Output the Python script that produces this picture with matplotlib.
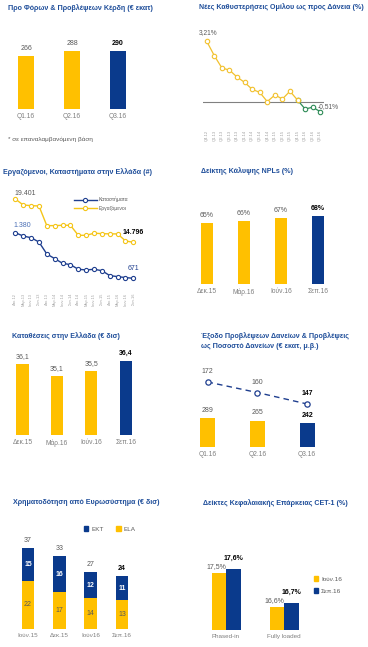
import matplotlib
matplotlib.use("Agg")
import matplotlib.pyplot as plt
from matplotlib.patches import Patch

plt.rcParams["font.family"] = ["Liberation Sans Narrow", "Liberation Sans", "DejaVu Sans"]

# ---- data ----
pbt_labels = ["Q1.16", "Q2.16", "Q3.16"]
pbt_vals = [266, 288, 290]

nf_labels = ["Q4.12", "Q1.13", "Q2.13", "Q3.13", "Q4.13", "Q1.14", "Q2.14", "Q3.14",
             "Q4.14", "Q1.15", "Q2.15", "Q3.15", "Q4.15", "Q1.16", "Q2.16", "Q3.16"]
nf_vals = [3.21, 2.45, 1.80, 1.69, 1.32, 1.04, 0.67, 0.51,
           0.02, 0.37, 0.16, 0.57, 0.10, -0.37, -0.28, -0.51]

staff_labels = ["Δεκ.12", "Μαρ.13", "Ιουν.13", "Σεπ.13", "Δεκ.13", "Μαρ.14", "Ιουν.14", "Σεπ.14",
                "Δεκ.14", "Μαρ.15", "Ιουν.15", "Σεπ.15", "Δεκ.15", "Μαρ.16", "Ιουν.16", "Σεπ.16"]
employees = [19401, 18764, 18693, 18660, 16569, 16570, 16605, 16605,
             15540, 15540, 15760, 15720, 15690, 15690, 14940, 14796]
branches = [1380, 1328, 1302, 1235, 1049, 977, 904, 883,
            811, 801, 811, 790, 713, 697, 682, 671]

npl_labels = ["Δεκ.15", "Μάρ.16", "Ιούν.16", "Σεπ.16"]
npl_cov = [65, 66, 67, 68]

dep_labels = ["Δεκ.15", "Μάρ.16", "Ιούν.16", "Σεπ.16"]
deposits = [36.1, 35.1, 35.5, 36.4]

prov_labels = ["Q1.16", "Q2.16", "Q3.16"]
prov_charge = [289, 265, 242]
prov_bps = [172, 160, 147]

euro_labels = ["Ιούν.15", "Δεκ.15", "Ιούν16", "Σεπ.16"]
ecb = [15, 16, 12, 11]
ela = [22, 17, 14, 13]
euro_total = [37, 33, 27, 24]

cet_labels = ["Phased-in", "Fully loaded"]
cet_jun = [17.5, 16.6]
cet_sep = [17.6, 16.7]

# ---- style ----
W, H = 368, 647
YEL = "#FFC000"
BLU = "#0A3A8C"
LBLU = "#1F3F8F"
GRN = "#2E8B57"
TITLE = "#1F4E9A"
GREY = "#7F7F7F"
DGREY = "#595959"

fig = plt.figure(figsize=(W / 100, H / 100), dpi=100)


def add_box(x0, y0, x1, y1):
    ax = fig.add_axes([x0 / W, 1 - y1 / H, (x1 - x0) / W, (y1 - y0) / H])
    for s in ax.spines.values():
        s.set_visible(False)
    ax.tick_params(length=0, labelsize=4.8, labelcolor=GREY, pad=3)
    ax.set_yticks([])
    ax.patch.set_alpha(0)
    return ax


def ftext(x, y, s, **kw):
    fig.text(x / W, 1 - y / H, s, **kw)


def title(x, y, s):
    ftext(x, y, s, fontsize=5.1, fontweight="bold", color=TITLE, ha="left", va="center")


def vlabel(ax, x, y, s, bold=False, dy=3, color=None, dx=0, va="bottom", size=5):
    ax.annotate(s, (x, y), xytext=(dx, dy), textcoords="offset points", ha="center", va=va,
                fontsize=size, fontweight="bold" if bold else "normal",
                color=color or ("black" if bold else DGREY))


def gr(v, nd=1):
    return f"{v:.{nd}f}".replace(".", ",")


# ---- panel 1: pre-tax pre-provision ----
title(8, 8, "Προ Φόρων & Προβλέψεων Κέρδη (€ εκατ)")
ax = add_box(3, 49, 141, 109)
ax.bar(range(3), pbt_vals, width=0.35, color=[YEL, YEL, BLU])
ax.set_xlim(-0.5, 2.5)
ax.set_ylim(0, 300)
ax.set_xticks(range(3), pbt_labels)
for i, v in enumerate(pbt_vals):
    vlabel(ax, i, v, str(v), bold=(i == 2))
ftext(8, 139, "* σε επαναλαμβανόμενη βάση", fontsize=4.6, color=DGREY, va="center")

# ---- panel 2: new NPE formation ----
title(199, 7, "Νέες Καθυστερήσεις Ομίλου ως προς Δάνεια (%)")
ax = add_box(203, 38, 324, 115)
x = list(range(len(nf_vals)))
ax.axhline(0, color="#808080", lw=0.8)
ax.plot(x[12:], nf_vals[12:], color=GRN, lw=0.9, marker="o", ms=3.2, mfc="white", mec=GRN, mew=0.8)
ax.plot(x[:13], nf_vals[:13], color="#F2C12E", lw=0.9, marker="o", ms=3.2, mfc="white",
        mec="#F2C12E", mew=0.8)
ax.set_xlim(-0.5, 15.5)
ax.set_ylim(-0.69, 3.39)
ax.set_xticks(x, nf_labels, rotation=90)
ax.tick_params(labelsize=3, pad=11, labelcolor="#A0A0A0")
vlabel(ax, 0, nf_vals[0], gr(nf_vals[0], 2) + "%", dy=4, dx=1, size=4.8)
vlabel(ax, 15, nf_vals[15], gr(nf_vals[15], 2) + "%", dy=4, dx=6, va="center", size=4.8)

# ---- panel 3: employees & branches ----
title(3, 172, "Εργαζόμενοι, Καταστήματα στην Ελλάδα (#)")
ax = add_box(11.4, 190, 137.3, 290)
axb = ax.twinx()
for s in axb.spines.values():
    s.set_visible(False)
axb.set_yticks([])
x = list(range(len(employees)))
l_emp, = ax.plot(x, employees, color="#F5C518", lw=1.0, marker="o", ms=3.0, mfc="white",
                 mec="#F5C518", mew=0.8, label="Εργαζόμενοι")
l_br, = axb.plot(x, branches, color=LBLU, lw=1.0, marker="o", ms=3.0, mfc="white",
                 mec=LBLU, mew=0.8, label="Καταστήματα")
ax.set_xlim(-0.5, 15.5)
ax.set_ylim(9723, 20358)
axb.set_ylim(489, 2044)
ax.set_xticks(x, staff_labels, rotation=90)
ax.tick_params(labelsize=2.8, pad=2, labelcolor="#A0A0A0")
fmt = lambda v: f"{v:,}".replace(",", ".")
vlabel(ax, 0, employees[0], fmt(employees[0]), dx=7, dy=4, va="center", size=5)
vlabel(ax, 15, employees[-1], fmt(employees[-1]), bold=True, dy=7, va="center", size=5)
vlabel(axb, 0, branches[0], fmt(branches[0]), dx=5, dy=5, va="center", color="#4A6FB5", size=5)
vlabel(axb, 15, branches[-1], fmt(branches[-1]), dy=7, va="center", color=LBLU, size=5)
fig.legend([l_br, l_emp], ["Καταστήματα", "Εργαζόμενοι"], loc="upper left",
           bbox_to_anchor=(74 / W, 1 - 197 / H), frameon=False, fontsize=3.6,
           handlelength=4.5, handletextpad=0.5, labelspacing=0.7, borderpad=0,
           borderaxespad=0, labelcolor=DGREY)

# ---- panel 4: NPL coverage ----
title(201, 171, "Δείκτης Κάλυψης NPLs (%)")
ax = add_box(188.5, 200, 336.5, 284)
ax.bar(range(4), npl_cov, width=0.34, color=[YEL, YEL, YEL, BLU])
ax.set_xlim(-0.5, 3.5)
ax.set_ylim(41.2, 74.2)
ax.set_xticks(range(4), npl_labels)
for i, v in enumerate(npl_cov):
    vlabel(ax, i, v, f"{v}%", bold=(i == 3))

# ---- panel 5: deposits ----
title(12, 336, "Καταθέσεις στην Ελλάδα (€ δισ)")
ax = add_box(5.3, 350, 143, 435)
ax.bar(range(4), deposits, width=0.35, color=[YEL, YEL, YEL, BLU])
ax.set_xlim(-0.5, 3.5)
ax.set_ylim(30.2, 37.28)
ax.set_xticks(range(4), dep_labels)
for i, v in enumerate(deposits):
    vlabel(ax, i, v, gr(v), bold=(i == 3))

# ---- panel 6: provisions ----
title(201, 336, "Έξοδο Προβλέψεων Δανείων & Προβλέψεις")
title(201, 347, "ως Ποσοστό Δανείων (€ εκατ, μ.β.)")
ax = add_box(182.6, 365, 332, 447)
ax.bar(range(3), prov_charge, width=0.3, color=[YEL, YEL, BLU])
ax.set_xlim(-0.5, 2.5)
ax.set_ylim(0, 820)
ax.set_xticks(range(3), prov_labels)
for i, v in enumerate(prov_charge):
    vlabel(ax, i, v, str(v), bold=(i == 2))
axb = ax.twinx()
for s in axb.spines.values():
    s.set_visible(False)
axb.set_yticks([])
axb.plot(range(3), prov_bps, color=LBLU, lw=1.0, ls=(0, (4, 3)), marker="o", ms=3.8,
         mfc="white", mec=LBLU, mew=0.9)
axb.set_ylim(98.1, 191.3)
for i, v in enumerate(prov_bps):
    vlabel(axb, i, v, str(v), bold=(i == 2), dy=5)

# ---- panel 7: Eurosystem funding ----
title(13, 503, "Χρηματοδότηση από Ευρωσύστημα (€ δισ)")
ax = add_box(12.3, 540, 137.7, 629)
ax.bar(range(4), ela, width=0.4, color=YEL)
ax.bar(range(4), ecb, width=0.4, bottom=ela, color=BLU)
ax.set_xlim(-0.5, 3.5)
ax.set_ylim(0, 40.5)
ax.set_xticks(range(4), euro_labels)
ax.tick_params(labelsize=4.5)
for i in range(4):
    vlabel(ax, i, ela[i] / 2, str(ela[i]), dy=0, va="center", color=DGREY)
    vlabel(ax, i, ela[i] + ecb[i] / 2, str(ecb[i]), dy=0, va="center", color="white", bold=True)
    vlabel(ax, i, ela[i] + ecb[i], str(euro_total[i]), bold=(i == 3))
fig.legend(handles=[Patch(color=BLU, label="ΕΚΤ"), Patch(color=YEL, label="ELA")],
           loc="center left", bbox_to_anchor=(84 / W, 1 - 529 / H), ncol=2, frameon=False,
           fontsize=4.6, handlelength=0.7, handleheight=0.7, handletextpad=0.4,
           columnspacing=2.0, borderpad=0, borderaxespad=0, labelcolor=DGREY)

# ---- panel 8: CET-1 ----
title(203, 503, "Δείκτες Κεφαλαιακής Επάρκειας CET-1 (%)")
ax = add_box(197, 550, 313, 630)
ax.bar([i - 0.125 for i in range(2)], cet_jun, width=0.25, color=YEL)
ax.bar([i + 0.125 for i in range(2)], cet_sep, width=0.25, color=BLU)
ax.set_xlim(-0.5, 1.5)
ax.set_ylim(15.99, 18.11)
ax.set_xticks(range(2), cet_labels)
ax.tick_params(labelsize=4.5)
for i in range(2):
    vlabel(ax, i - 0.125, cet_jun[i], gr(cet_jun[i]) + "%", dx=-2, dy=2)
    vlabel(ax, i + 0.125, cet_sep[i], gr(cet_sep[i]) + "%", bold=True, dy=5)
fig.legend(handles=[Patch(color=YEL, label="Ιούν.16"), Patch(color=BLU, label="Σεπ.16")],
           loc="center left", bbox_to_anchor=(314 / W, 1 - 585 / H), frameon=False,
           fontsize=4.6, handlelength=0.7, handleheight=0.7, handletextpad=0.4,
           labelspacing=1.0, borderpad=0, borderaxespad=0, labelcolor=DGREY)

fig.savefig("out.png", dpi=100)
